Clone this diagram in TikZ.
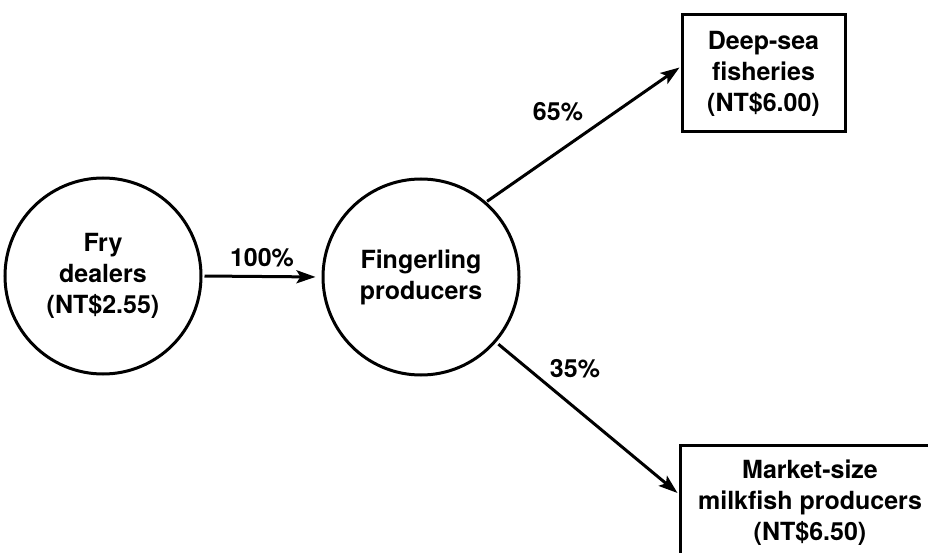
\documentclass[tikz,border=0pt]{standalone}
\usepackage{fontspec}
\setmainfont{TeX Gyre Heros}
\usetikzlibrary{arrows.meta,calc}
\begin{document}
\begin{tikzpicture}[x=1pt,y=-1pt,
  every node/.style={font=\fontsize{25}{31}\selectfont\bfseries, align=center},
  circ/.style={draw, circle, line width=3pt, minimum size=196pt, inner sep=0pt},
  boxn/.style={draw, rectangle, line width=3pt, inner sep=0pt},
  flow/.style={line width=3pt, -{Stealth[length=19pt,width=13pt,inset=4pt]}},
  lbl/.style={inner sep=0pt}]
\useasboundingbox (0,0) rectangle (928,553);
\clip (0,0) rectangle (928,553);
\node[circ] (fry) at (103,276) {Fry\\dealers\\(NT\$2.55)};
\node[circ] (fing) at (421,277) {Fingerling\\producers};
\node[boxn, minimum width=163pt, minimum height=117pt] (deep) at (763.5,73.5) {Deep-sea\\fisheries\\(NT\$6.00)};
\node[boxn, minimum width=260pt, minimum height=116pt] (market) at (810,503) {Market-size\\milkfish producers\\(NT\$6.50)};
\coordinate (deepin) at ($(deep.west)+(-1,-6)$);
\coordinate (marketin) at ($(market.west)+(-1,-10)$);
\draw[flow, shorten <=2pt, shorten >=6pt] (fry.east) -- (fing.west);
\draw[flow, shorten <=1pt] (fing.49) -- (deepin);
\draw[flow, shorten <=3pt] (fing.-41) -- (marketin);
\node[lbl] (l100) at (262,258) {100\%};
\node[lbl] (l65) at (558,112) {65\%};
\node[lbl] (l35) at (575,369) {35\%};
\end{tikzpicture}
\end{document}
